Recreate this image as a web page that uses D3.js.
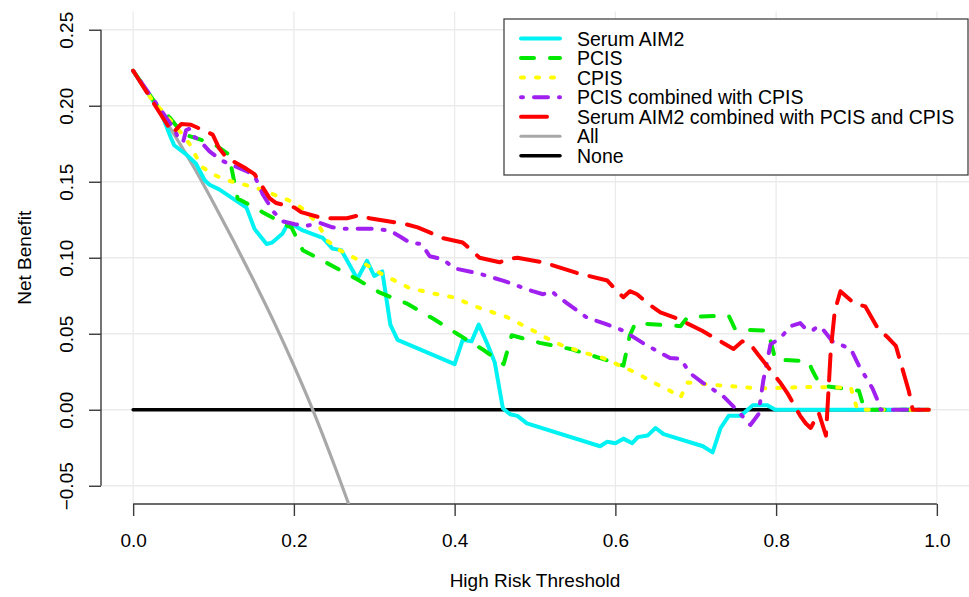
<!DOCTYPE html>
<html lang="en">
<head>
<meta charset="UTF-8">
<title>Decision curve</title>
<style>
  body{
    margin:0;
    background:#fff;
    font-family:"Liberation Sans", Arial, Helvetica, sans-serif;
  }
  svg{ display:block; }
  .grid line{ stroke:#ebebeb; stroke-width:1.3; }
  .axis path, .axis line{ stroke:#3a3a3a; stroke-width:1.4; }
  .axis text{ font-size:19px; fill:#000; font-family:"Liberation Sans", Arial, sans-serif; }
  .nb-line{ fill:none; stroke-linecap:round; stroke-linejoin:round; }
  .legend text{ font-size:19.5px; fill:#000; }
  .title{ font-size:19px; fill:#000; text-anchor:middle; }
</style>
<script src="https://cdn.jsdelivr.net/npm/d3@7"></script>
</head>
<body>
<script>
// ticks and names
var thresholdTicks = [0, 0.2, 0.4, 0.6, 0.8, 1.0];
var benefitTicks = [-0.05, 0, 0.05, 0.10, 0.15, 0.20, 0.25];
var seriesNames = ["Serum AIM2", "PCIS", "CPIS", "PCIS combined with CPIS",
                   "Serum AIM2 combined with PCIS and CPIS", "All", "None"];

// [threshold, net benefit]
var serumAim2 = [[0,0.223],[0.035,0.195],[0.047,0.179],[0.051,0.174],[0.066,0.168],[0.078,0.162],[0.089,0.151],[0.095,0.148],[0.107,0.145],[0.141,0.133],[0.151,0.119],[0.166,0.109],[0.173,0.110],[0.186,0.116],[0.191,0.121],[0.201,0.121],[0.211,0.118],[0.236,0.113],[0.248,0.106],[0.259,0.105],[0.279,0.086],[0.291,0.098],[0.300,0.088],[0.310,0.091],[0.320,0.056],[0.329,0.046],[0.400,0.030],[0.410,0.046],[0.421,0.045],[0.430,0.056],[0.441,0.043],[0.450,0.031],[0.460,0.001],[0.469,-0.003],[0.478,-0.004],[0.490,-0.009],[0.581,-0.024],[0.590,-0.021],[0.600,-0.022],[0.610,-0.019],[0.621,-0.022],[0.628,-0.018],[0.640,-0.017],[0.650,-0.012],[0.660,-0.016],[0.709,-0.024],[0.721,-0.028],[0.731,-0.012],[0.741,-0.004],[0.756,-0.004],[0.771,0.003],[0.789,0.003],[0.799,0],[0.99,0]];

var pcis = [[0,0.223],[0.030,0.200],[0.046,0.192],[0.055,0.186],[0.070,0.180],[0.082,0.178],[0.100,0.175],[0.119,0.168],[0.130,0.139],[0.161,0.130],[0.192,0.121],[0.197,0.120],[0.211,0.105],[0.236,0.098],[0.278,0.086],[0.307,0.077],[0.340,0.070],[0.373,0.060],[0.403,0.050],[0.434,0.040],[0.461,0.030],[0.471,0.049],[0.506,0.044],[0.544,0.040],[0.581,0.034],[0.610,0.029],[0.618,0.049],[0.625,0.057],[0.681,0.055],[0.690,0.061],[0.741,0.062],[0.749,0.053],[0.790,0.052],[0.799,0.033],[0.840,0.032],[0.845,0.026],[0.855,0.016],[0.903,0.0125],[0.910,0],[0.99,0]];

var cpis = [[0,0.223],[0.022,0.205],[0.047,0.190],[0.060,0.182],[0.070,0.175],[0.085,0.160],[0.099,0.155],[0.116,0.151],[0.132,0.149],[0.153,0.146],[0.173,0.142],[0.195,0.1375],[0.209,0.133],[0.229,0.123],[0.242,0.111],[0.257,0.105],[0.282,0.098],[0.307,0.090],[0.344,0.080],[0.378,0.076],[0.398,0.074],[0.431,0.067],[0.465,0.061],[0.498,0.052],[0.515,0.047],[0.535,0.042],[0.565,0.037],[0.585,0.034],[0.610,0.028],[0.627,0.024],[0.647,0.018],[0.668,0.0125],[0.681,0.008],[0.690,0.018],[0.731,0.016],[0.781,0.014],[0.839,0.015],[0.893,0.0145],[0.901,0],[0.99,0]];

var pcisCpis = [[0,0.223],[0.052,0.184],[0.055,0.180],[0.062,0.176],[0.066,0.184],[0.071,0.185],[0.075,0.180],[0.083,0.177],[0.095,0.170],[0.110,0.164],[0.141,0.157],[0.151,0.154],[0.161,0.142],[0.175,0.130],[0.186,0.124],[0.201,0.122],[0.216,0.121],[0.232,0.123],[0.248,0.120],[0.261,0.119],[0.298,0.119],[0.319,0.118],[0.332,0.114],[0.344,0.110],[0.359,0.109],[0.369,0.101],[0.385,0.099],[0.400,0.093],[0.431,0.0895],[0.460,0.085],[0.497,0.078],[0.510,0.076],[0.521,0.078],[0.527,0.075],[0.540,0.070],[0.565,0.0605],[0.585,0.057],[0.610,0.052],[0.637,0.043],[0.668,0.034],[0.681,0.0335],[0.693,0.024],[0.708,0.018],[0.734,0.009],[0.749,0.001],[0.768,-0.010],[0.778,-0.003],[0.784,0.019],[0.793,0.043],[0.805,0.047],[0.818,0.055],[0.830,0.057],[0.837,0.053],[0.845,0.052],[0.852,0.055],[0.858,0.053],[0.870,0.045],[0.893,0.040],[0.903,0.029],[0.920,0.014],[0.928,0.004],[0.930,0],[0.99,0]];

var combined = [[0,0.223],[0.049,0.182],[0.060,0.188],[0.072,0.1875],[0.089,0.1835],[0.099,0.181],[0.107,0.172],[0.116,0.166],[0.141,0.1585],[0.151,0.155],[0.170,0.139],[0.178,0.136],[0.201,0.133],[0.209,0.130],[0.236,0.126],[0.251,0.126],[0.266,0.126],[0.282,0.128],[0.294,0.126],[0.340,0.122],[0.354,0.120],[0.372,0.116],[0.385,0.113],[0.410,0.110],[0.421,0.105],[0.431,0.100],[0.456,0.097],[0.465,0.099],[0.478,0.100],[0.510,0.097],[0.552,0.090],[0.590,0.085],[0.602,0.078],[0.610,0.074],[0.618,0.078],[0.627,0.076],[0.640,0.070],[0.656,0.064],[0.677,0.060],[0.708,0.052],[0.747,0.040],[0.758,0.045],[0.768,0.043],[0.778,0.036],[0.805,0.018],[0.814,0.011],[0.830,-0.004],[0.837,-0.009],[0.843,-0.012],[0.853,-0.002],[0.862,-0.017],[0.868,0.039],[0.873,0.065],[0.880,0.078],[0.897,0.070],[0.911,0.068],[0.926,0.054],[0.940,0.047],[0.949,0.042],[0.965,0.0125],[0.970,0],[0.99,0]];

var treatAll = [[0,0.223],[0.025,0.203],[0.05,0.182],[0.075,0.160],[0.10,0.136],[0.125,0.111],[0.15,0.085],[0.175,0.058],[0.20,0.029],[0.225,-0.002],[0.25,-0.036],[0.275,-0.072]];

var treatNone = [[0,0],[0.99,0]];

// styling per series (same order as seriesNames)
var seriesData = [serumAim2, pcis, cpis, pcisCpis, combined, treatAll, treatNone];
var seriesColors = ["#00f2f2", "#00e800", "#ffff00", "#a020f0", "#ff0000", "#a8a8a8", "#000000"];
var seriesDash = [null, "13,16", "3,12", "2,11,14,11", "26,13", null, null];
var seriesWidth = [4, 4, 4, 4, 4, 3.2, 3.6];

var width = 969, height = 597;
var plotLeft = 101, plotRight = 969, plotTop = 11.5, plotBottom = 504;

var svg = d3.select("body").append("svg")
    .attr("width", width)
    .attr("height", height);

var x = d3.scaleLinear().domain([-0.04, 1.04]).range([plotLeft, plotRight]);
var y = d3.scaleLinear().domain([-0.062, 0.262]).range([plotBottom, plotTop]);

// grid
var grid = svg.append("g").attr("class", "grid");
grid.selectAll(".vg").data(thresholdTicks).enter().append("line")
    .attr("x1", function(d){ return x(d); })
    .attr("x2", function(d){ return x(d); })
    .attr("y1", plotTop).attr("y2", plotBottom);
grid.selectAll(".hg").data(benefitTicks).enter().append("line")
    .attr("x1", plotLeft).attr("x2", plotRight)
    .attr("y1", function(d){ return y(d); })
    .attr("y2", function(d){ return y(d); });

// axes
var xAxis = svg.append("g")
    .attr("class", "axis")
    .attr("transform", "translate(0," + plotBottom + ")")
    .call(d3.axisBottom(x).tickValues(thresholdTicks).tickSize(12).tickPadding(18)
        .tickFormat(d3.format(".1f")));
xAxis.select(".domain").remove();
xAxis.append("line")
    .attr("x1", x(thresholdTicks[0])).attr("x2", x(thresholdTicks[thresholdTicks.length-1]))
    .attr("y1", 0).attr("y2", 0);

var yAxis = svg.append("g")
    .attr("class", "axis")
    .attr("transform", "translate(" + plotLeft + ",0)")
    .call(d3.axisLeft(y).tickValues(benefitTicks).tickSize(12)
        .tickFormat(d3.format(".2f")));
yAxis.select(".domain").remove();
yAxis.append("line")
    .attr("x1", 0).attr("x2", 0)
    .attr("y1", y(benefitTicks[0])).attr("y2", y(benefitTicks[benefitTicks.length-1]));
yAxis.selectAll(".tick text")
    .attr("transform", "rotate(-90)")
    .attr("x", 0).attr("y", -28).attr("dy", 0)
    .attr("text-anchor", "middle");

// axis titles
svg.append("text").attr("class", "title")
    .attr("x", (plotLeft + plotRight) / 2).attr("y", 587)
    .text("High Risk Threshold");
svg.append("text").attr("class", "title")
    .attr("transform", "translate(31," + (plotTop + plotBottom) / 2 + ") rotate(-90)")
    .text("Net Benefit");

// curves
svg.append("clipPath").attr("id", "plot-clip")
    .append("rect").attr("x", plotLeft).attr("y", plotTop)
    .attr("width", plotRight - plotLeft).attr("height", plotBottom - plotTop);

var line = d3.line()
    .x(function(d){ return x(d[0]); })
    .y(function(d){ return y(d[1]); });
var smooth = d3.line()
    .x(function(d){ return x(d[0]); })
    .y(function(d){ return y(d[1]); })
    .curve(d3.curveMonotoneX);

var curves = svg.append("g").attr("clip-path", "url(#plot-clip)");
// None and All go underneath
[6, 5, 0, 1, 2, 3, 4].forEach(function(i){
    curves.append("path")
        .attr("class", "nb-line")
        .attr("d", (i == 5 ? smooth : line)(seriesData[i]))
        .attr("stroke", seriesColors[i])
        .attr("stroke-width", seriesWidth[i])
        .attr("stroke-dasharray", seriesDash[i]);
});

// legend
var legend = svg.append("g").attr("class", "legend");
legend.append("rect")
    .attr("x", 504).attr("y", 19)
    .attr("width", 464).attr("height", 156)
    .attr("fill", "#fff").attr("stroke", "#444").attr("stroke-width", 1.3);
for (var i = 0; i < seriesNames.length; i++) {
    var ly = 38.5 + i * 19.55;
    legend.append("line")
        .attr("class", "nb-line")
        .attr("x1", 521).attr("x2", 560)
        .attr("y1", ly).attr("y2", ly)
        .attr("stroke", seriesColors[i])
        .attr("stroke-width", seriesWidth[i])
        .attr("stroke-dasharray", seriesDash[i]);
    legend.append("text")
        .attr("x", 577).attr("y", ly + 7)
        .text(seriesNames[i]);
}
</script>
</body>
</html>
